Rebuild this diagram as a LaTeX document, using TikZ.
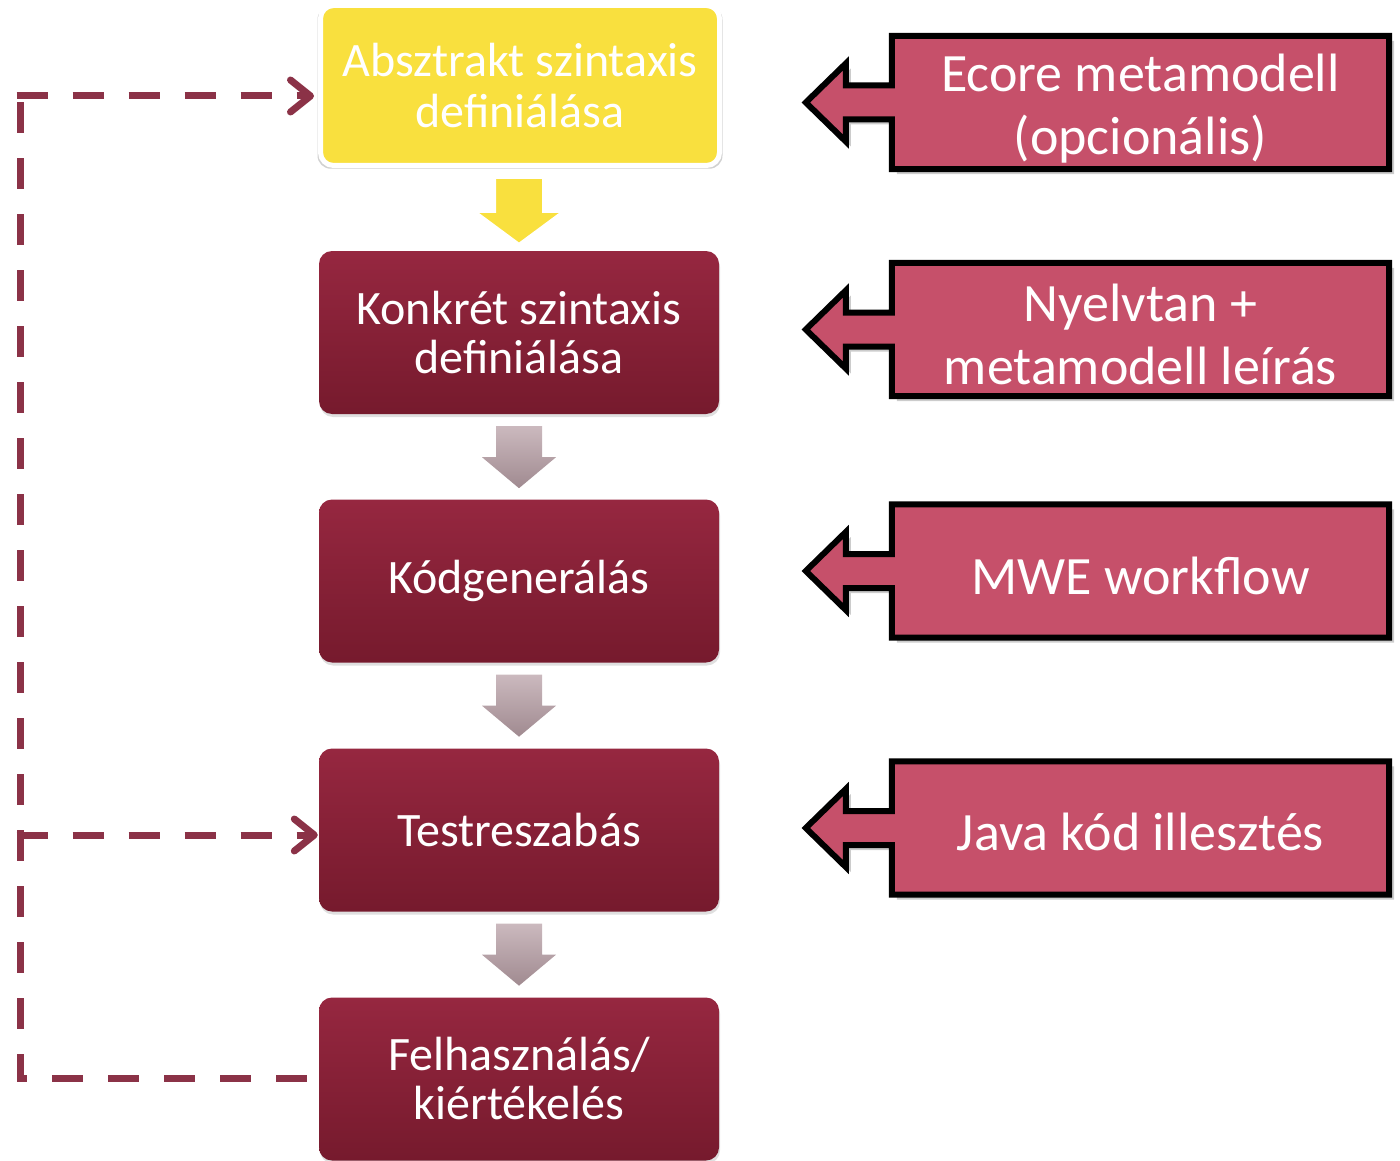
\documentclass[tikz,border=0pt]{standalone}
\usepackage{fontspec}
\setmainfont{Carlito}
\usetikzlibrary{shadows,arrows.meta,calc,backgrounds}
\definecolor{mtop}{HTML}{962740}
\definecolor{mbot}{HTML}{761A2D}
\definecolor{yel}{HTML}{F9E03E}
\definecolor{pinkc}{HTML}{C6506A}
\definecolor{dashc}{HTML}{8B3247}
\definecolor{gtop}{HTML}{CBB9BE}
\definecolor{gbot}{HTML}{A08A90}
\begin{document}
\begin{tikzpicture}[x=1pt,y=-1pt,
  stepbox/.style={rounded corners=13pt, minimum width=400pt, minimum height=163pt,
    top color=mtop, bottom color=mbot, text=white, align=center, inner sep=0pt,
    font=\fontsize{48}{49}\selectfont,
    drop shadow={opacity=0.25, shadow xshift=1pt, shadow yshift=-3pt}},
  firstbox/.style={rounded corners=13pt, minimum width=399pt, minimum height=160pt,
    fill=yel, draw=white, line width=5pt, text=white, align=center, inner sep=0pt,
    font=\fontsize{48}{51}\selectfont,
    general shadow={shadow scale=1.015, fill=black, opacity=0.18, shadow yshift=-2pt}},
  callarea/.style={minimum width=497pt, minimum height=133pt, inner sep=0pt},
  calltext/.style={text=white, align=center, inner sep=0pt,
    font=\fontsize{54}{63}\selectfont},
  callshape/.style={fill=pinkc, draw=black, line width=6pt, line join=miter,
    drop shadow={opacity=0.4, shadow xshift=5pt, shadow yshift=-5pt}},
  dashln/.style={draw=dashc, line width=7pt, dash pattern=on 31pt off 25pt,
    -{Straight Barb[length=20pt, width=32pt, line cap=round, line join=round]}},
  plainln/.style={draw=dashc, line width=7pt, dash pattern=on 31pt off 25pt},
  greydown/.pic={\path[pic actions] (-23,0) -- (23,0) -- (23,31) -- (37,31) -- (0,62)
    -- (-37,31) -- (-23,31) -- cycle;},
  yeldown/.pic={\path[pic actions] (-25,0) -- (25,0) -- (25,34) -- (46,34) -- (0,68)
    -- (-46,34) -- (-25,34) -- cycle;}
]
\useasboundingbox (0,0) rectangle (1400,1161);

% main steps
\node[firstbox] (abs) at (520,85.5) {Absztrakt szintaxis\\definiálása};
\node[stepbox] (kon) at (519,332.5) {Konkrét szintaxis\\definiálása};
\node[stepbox] (kod) at (519,581) {Kódgenerálás};
\node[stepbox] (tes) at (519,830) {Testreszabás};
\node[stepbox] (fel) at (519,1079) {Felhasználás/\\kiértékelés};

% block arrows between steps
\pic[fill=yel, draw=white, line width=4pt, line join=miter,
     general shadow={shadow scale=1.06, fill=black, opacity=0.15, shadow yshift=-2pt}]
  at ($(abs.south)+(-1,9)$) {yeldown};
\pic[top color=gtop, bottom color=gbot] at ($(kon.south)+(0,12)$) {greydown};
\pic[top color=gtop, bottom color=gbot] at ($(kod.south)+(0,12)$) {greydown};
\pic[top color=gtop, bottom color=gbot] at ($(tes.south)+(0,12)$) {greydown};

% callouts
\node[callarea] (c1) at (1140.5,102.5) {};
\node[callarea] (c2) at (1140.5,329.5) {};
\node[callarea] (c3) at (1140.5,571) {};
\node[callarea] (c4) at (1140.5,828) {};
\node[calltext] (c1t) at ($(c1)+(0,6)$) {Ecore metamodell\\(opcionális)};
\node[calltext] (c2t) at ($(c2)+(0,5)$) {Nyelvtan +\\metamodell leírás};
\node[calltext] (c3t) at ($(c3)+(0,5)$) {MWE workflow};
\node[calltext] (c4t) at ($(c4)+(0,4)$) {Java kód illesztés};
\begin{scope}[on background layer]
\foreach \c in {c1,c2,c3,c4}{
  \path[callshape] (\c.north west) -- (\c.north east) -- (\c.south east) -- (\c.south west)
    -- ($(\c.west)+(0,17)$) -- ($(\c.west)+(-46,17)$) -- ($(\c.west)+(-46,39)$)
    -- ($(\c.west)+(-86,0)$) -- ($(\c.west)+(-46,-39)$) -- ($(\c.west)+(-46,-17)$)
    -- ($(\c.west)+(0,-17)$) -- cycle;
}
\end{scope}

% feedback dashed connectors
\coordinate (lx) at (20,0);
\coordinate (ctop) at ($(lx|-abs.west)+(0,10.5)$);
\coordinate (cmid) at ($(lx|-tes.west)+(0,5)$);
\draw[plainln] ($(fel.west)+(-12,-1)$) -| ($(ctop)+(0,6)$);
\draw[dashln] ($(ctop)+(-3.5,0)$) -- ($(abs.west)+(-4,10.5)$);
\draw[dashln] ($(cmid)+(-3.5,0)$) -- ($(tes.west)+(-1,5)$);
\end{tikzpicture}
\end{document}
